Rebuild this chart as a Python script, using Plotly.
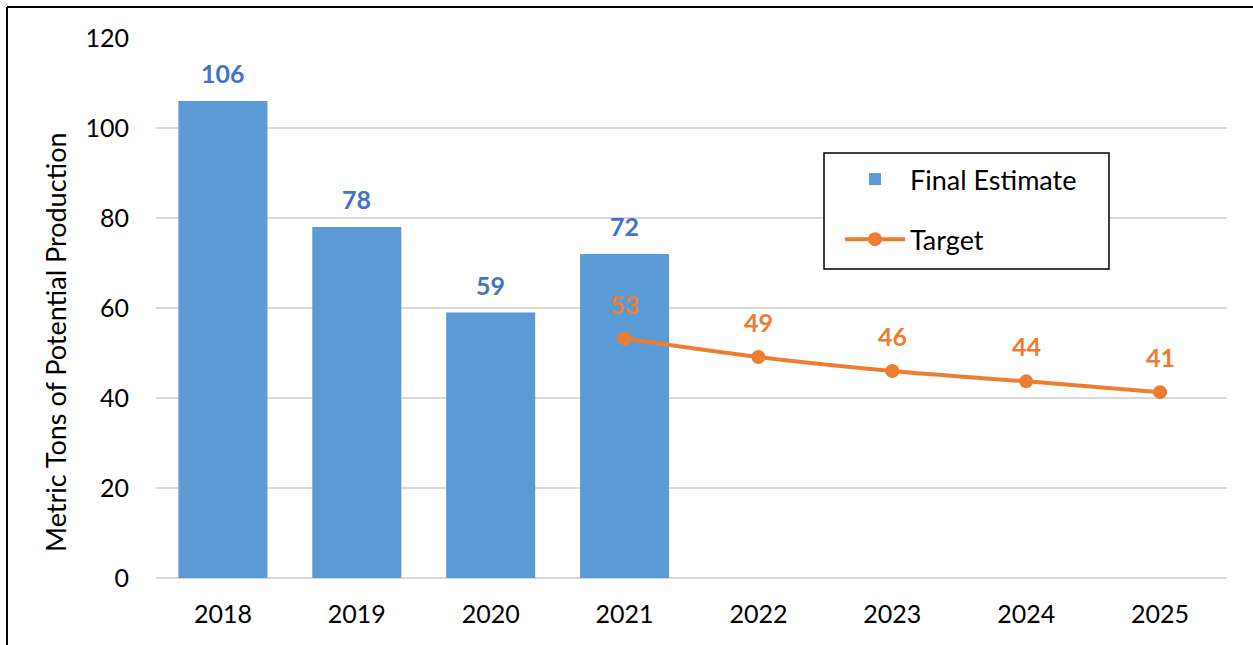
import plotly.graph_objects as go

years = ["2018", "2019", "2020", "2021", "2022", "2023", "2024", "2025"]
final_years = ["2018", "2019", "2020", "2021"]
final_values = [106, 78, 59, 72]
target_years = ["2021", "2022", "2023", "2024", "2025"]
target_values = [53.2, 49.1, 46.0, 43.7, 41.3]
target_labels = ["53", "49", "46", "44", "41"]
y_ticks = [0, 20, 40, 60, 80, 100, 120]
y_title = "Metric Tons of Potential Production"

BLUE = "#5B9BD5"
BLUE_TXT = "#4472C4"
ORANGE = "#ED7D31"
FONT = "Lato, 'Open Sans', sans-serif"

W, H = 1253, 645
ML, MR, MT, MB = 156, 26, 38, 67
PW, PH = W - ML - MR, H - MT - MB


def px_x(p):
    return (p - ML) / PW


def px_y(p):
    return 1 - (p - MT) / PH


fig = go.Figure()
fig.add_trace(go.Bar(x=final_years, y=final_values, name="Final Estimate",
                     legendgroup="a", marker=dict(color=BLUE, line=dict(width=0))))
fig.add_trace(go.Scatter(x=target_years, y=target_values, name="Target", legendgroup="b",
                         mode="lines+markers", line=dict(color=ORANGE, width=4, shape="spline"),
                         marker=dict(color=ORANGE, size=14)))

for x, v in zip(final_years, final_values):
    fig.add_annotation(x=years.index(x), y=v, text=f"<b>{v}</b>", showarrow=False, yshift=28,
                       font=dict(color=BLUE_TXT, size=25, family=FONT))
for x, v, t in zip(target_years, target_values, target_labels):
    fig.add_annotation(x=years.index(x), y=v, text=f"<b>{t}</b>", showarrow=False, yshift=35,
                       font=dict(color=ORANGE, size=25, family=FONT))

# y-axis title (placed as in the reference, slightly below plot centre)
fig.add_annotation(xref="paper", yref="paper", x=px_x(55), y=px_y(342),
                   xanchor="center", yanchor="middle",
                   text=y_title, textangle=-90, showarrow=False,
                   font=dict(size=27, family=FONT, color="black"))

# outer frame lines (left and top)
fig.add_shape(type="line", xref="paper", yref="paper", x0=px_x(7), x1=px_x(W), y0=px_y(7), y1=px_y(7),
              line=dict(color="black", width=2))
fig.add_shape(type="line", xref="paper", yref="paper", x0=px_x(7), x1=px_x(7), y0=px_y(H), y1=px_y(7),
              line=dict(color="black", width=2))

# legend frame
fig.add_shape(type="rect", xref="paper", yref="paper", layer="above",
              x0=px_x(824), x1=px_x(1109), y0=px_y(269), y1=px_y(153),
              line=dict(color="black", width=1.5), fillcolor="white")

fig.update_layout(
    width=W, height=H,
    margin=dict(l=ML, r=MR, t=MT, b=MB),
    paper_bgcolor="white", plot_bgcolor="white",
    font=dict(family=FONT, size=25, color="black"),
    bargap=0.335,
    showlegend=True,
    legend=dict(x=px_x(840), y=px_y(155), xanchor="left", yanchor="top",
                borderwidth=0, bgcolor="rgba(0,0,0,0)",
                font=dict(size=27, family=FONT), tracegroupgap=22,
                itemwidth=60, traceorder="grouped"),
    xaxis=dict(type="category", categoryorder="array", categoryarray=years,
               range=[-0.5, 7.5], autorange=False, ticklabelstandoff=19,
               showgrid=False, showline=False, ticks="", tickfont=dict(size=25)),
    yaxis=dict(range=[0, 120], tickvals=y_ticks, showgrid=True, gridcolor="#D9D9D9",
               gridwidth=1.5, zeroline=True, zerolinecolor="#D9D9D9", zerolinewidth=1.5,
               showline=False, ticks="", ticklabelstandoff=26,
               tickfont=dict(size=25)),
)

fig.write_html("out.html", config={"displayModeBar": False},
               post_script="document.body.style.margin='0';document.body.style.overflow='hidden';")
